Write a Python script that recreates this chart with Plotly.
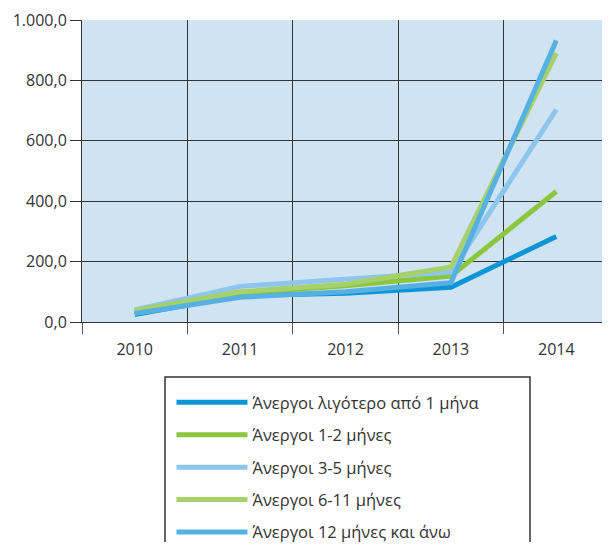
import plotly.graph_objects as go

years = ["2010", "2011", "2012", "2013", "2014"]
series_names = [
    "Άνεργοι λιγότερο από 1 μήνα",
    "Άνεργοι 1-2 μήνες",
    "Άνεργοι 3-5 μήνες",
    "Άνεργοι 6-11 μήνες",
    "Άνεργοι 12 μήνες και άνω",
]
less_1 = [25, 88, 95, 115, 283]
m1_2 = [35, 95, 120, 152, 432]
m3_5 = [40, 118, 142, 165, 703]
m6_11 = [38, 100, 125, 182, 890]
m12_plus = [28, 82, 100, 130, 932]
values = [less_1, m1_2, m3_5, m6_11, m12_plus]
colors = ["#0a96d6", "#8cc63f", "#8dc5ec", "#a6d06a", "#57b0e2"]
y_ticks = [0, 200, 400, 600, 800, 1000]

fig = go.Figure()
for i, (name, vals, col) in enumerate(zip(series_names, values, colors)):
    fig.add_trace(go.Scatter(
        x=years, y=vals, name=name, mode="lines",
        line=dict(color=col, width=5),
        legendgroup=str(i),
    ))

# page body has an 8px margin, so the figure is shifted by (8, 8)
PLOT_W = 527
PLOT_H = 302

fig.update_layout(
    width=602, height=534,
    margin=dict(l=74, r=1, t=12, b=220, autoexpand=False),
    paper_bgcolor="white",
    plot_bgcolor="#cfe3f3",
    separators=",.",
    font=dict(family="Open Sans, Noto Sans, sans-serif", size=16, color="#333333"),
    showlegend=True,
    legend=dict(
        x=(172 - 82) / PLOT_W - 0.001, y=(322 - 385) / PLOT_H,
        xanchor="left", yanchor="top",
        bgcolor="rgba(0,0,0,0)",
        itemwidth=71,
        tracegroupgap=8,
        font=dict(size=16.5, color="#333333"),
    ),
    xaxis=dict(
        type="category",
        range=[-0.5, 4.5],
        tickson="boundaries",
        showgrid=True, gridcolor="#333333", gridwidth=1,
        ticks="outside", ticklen=11, tickcolor="#555555",
        ticklabelstandoff=13,
        showline=True, linecolor="#333333",
        tickfont=dict(size=16, color="#333333"),
        automargin=False,
    ),
    yaxis=dict(
        range=[0, 1000], tickvals=y_ticks, tickformat=",.1f",
        showgrid=True, gridcolor="#333333", gridwidth=1,
        zeroline=False,
        ticks="outside", ticklen=11, tickcolor="#333333",
        showline=True, linecolor="#333333", mirror=True,
        tickfont=dict(size=16, color="#333333"),
        automargin=False,
    ),
)

fig.add_shape(
    type="rect", xref="paper", yref="paper",
    x0=(165 - 82) / PLOT_W, x1=(530 - 82) / PLOT_W,
    y0=(322 - 377) / PLOT_H, y1=(322 - 570) / PLOT_H,
    line=dict(color="#333333", width=1.5), fillcolor="rgba(0,0,0,0)",
)

fig.write_html("out.html")
